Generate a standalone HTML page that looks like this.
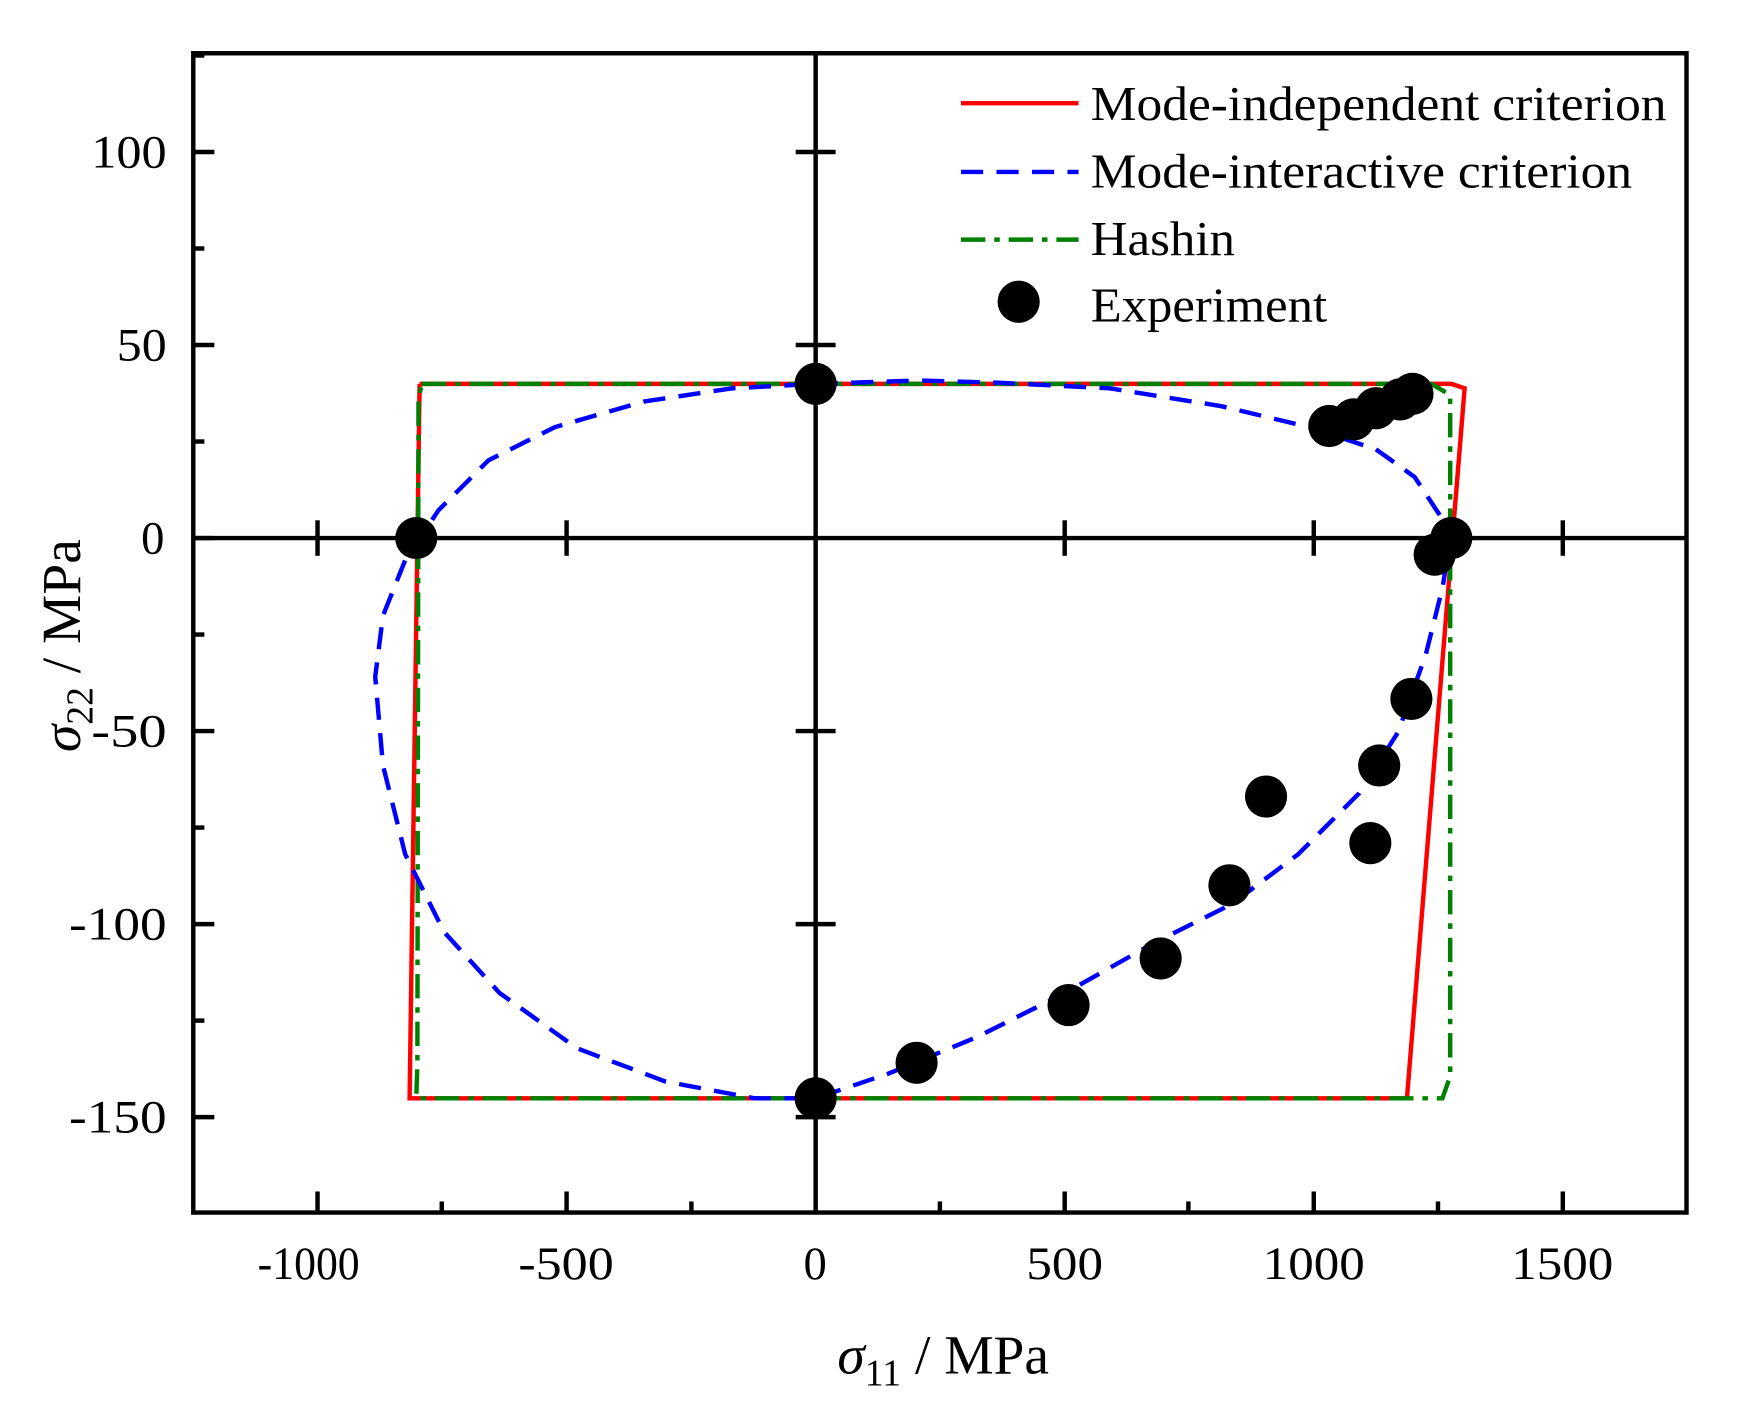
<!DOCTYPE html>
<html><head><meta charset="utf-8"><style>html,body{margin:0;padding:0;background:#fff}svg{display:block}</style></head><body>
<svg width="1740" height="1420" viewBox="0 0 1568 1280" xmlns="http://www.w3.org/2000/svg" font-family="Liberation Serif, serif">
<rect width="1568" height="1280" fill="#fff"/>
<line x1="174" y1="485" x2="1520" y2="485" stroke="#000" stroke-width="4"/>
<line x1="735" y1="48" x2="735" y2="1093" stroke="#000" stroke-width="4"/>
<g stroke="#000" stroke-width="4">
<line x1="717" y1="137" x2="753" y2="137"/><line x1="717" y1="311" x2="753" y2="311"/>
<line x1="717" y1="659" x2="753" y2="659"/><line x1="717" y1="833" x2="753" y2="833"/>
<line x1="717" y1="1007" x2="753" y2="1007"/>
<line x1="286" y1="469" x2="286" y2="501"/><line x1="510.5" y1="469" x2="510.5" y2="501"/>
<line x1="959.5" y1="469" x2="959.5" y2="501"/><line x1="1184" y1="469" x2="1184" y2="501"/>
<line x1="1408.5" y1="469" x2="1408.5" y2="501"/>
<line x1="174" y1="137" x2="193" y2="137"/><line x1="174" y1="311" x2="193" y2="311"/>
<line x1="174" y1="485" x2="193" y2="485"/><line x1="174" y1="659" x2="193" y2="659"/>
<line x1="174" y1="833" x2="193" y2="833"/><line x1="174" y1="1007" x2="193" y2="1007"/>
<line x1="174" y1="50" x2="184" y2="50"/><line x1="174" y1="224" x2="184" y2="224"/>
<line x1="174" y1="398" x2="184" y2="398"/><line x1="174" y1="572" x2="184" y2="572"/>
<line x1="174" y1="746" x2="184" y2="746"/><line x1="174" y1="920" x2="184" y2="920"/>
<line x1="286" y1="1093" x2="286" y2="1074"/><line x1="510.5" y1="1093" x2="510.5" y2="1074"/>
<line x1="959.5" y1="1093" x2="959.5" y2="1074"/><line x1="1184" y1="1093" x2="1184" y2="1074"/>
<line x1="1408.5" y1="1093" x2="1408.5" y2="1074"/>
<line x1="398" y1="1093" x2="398" y2="1083"/><line x1="623" y1="1093" x2="623" y2="1083"/>
<line x1="847" y1="1093" x2="847" y2="1083"/><line x1="1071" y1="1093" x2="1071" y2="1083"/>
<line x1="1296" y1="1093" x2="1296" y2="1083"/>
</g>
<polyline points="378,346 1308,346 1320,350 1268,990 369,990 378,346" fill="none" stroke="#f00" stroke-width="4"/>
<polyline points="380,346 1290,346 1307,356 1307,970 1300,990 375,990 376,960 377,360 380,346" fill="none" stroke="#008000" stroke-width="4" stroke-dasharray="22,8,5,8"/>
<polyline points="735,346 830,343 900,345 1000,350 1100,366 1180,385 1240,405 1275,430 1298,465 1305,500 1300,530 1285,590 1260,660 1225,715 1170,770 1110,815 1040,850 960,895 880,935 800,968 735,990 680,990 600,975 520,945 450,895 400,840 365,770 345,690 338,610 345,555 365,505 395,460 440,415 500,385 580,362 660,350 735,346" fill="none" stroke="#00f" stroke-width="4" stroke-linejoin="round" stroke-dasharray="20,12"/>
<g fill="#000">
<circle cx="735" cy="346" r="19"/><circle cx="375" cy="485" r="19"/><circle cx="1308" cy="485" r="19"/>
<circle cx="1293" cy="500" r="19"/><circle cx="735" cy="990" r="19"/><circle cx="826" cy="958" r="19"/>
<circle cx="963" cy="906" r="19"/><circle cx="1046" cy="864" r="19"/><circle cx="1108" cy="798" r="19"/>
<circle cx="1141" cy="718" r="19"/><circle cx="1243" cy="690" r="19"/><circle cx="1272" cy="630" r="19"/>
<circle cx="1235" cy="760" r="19"/><circle cx="1198" cy="384" r="19"/><circle cx="1220" cy="378" r="19"/>
<circle cx="1240" cy="368" r="19"/><circle cx="1262" cy="360" r="19"/><circle cx="1273" cy="355" r="19"/>
</g>
<rect x="174" y="48" width="1346" height="1045" fill="none" stroke="#000" stroke-width="4"/>
<g font-size="42" fill="#000">
<text x="82" y="151" textLength="68" lengthAdjust="spacingAndGlyphs">100</text>
<text x="105" y="325" textLength="45" lengthAdjust="spacingAndGlyphs">50</text>
<text x="127" y="499">0</text>
<text x="82" y="673" textLength="68" lengthAdjust="spacingAndGlyphs">-50</text>
<text x="62" y="847" textLength="88" lengthAdjust="spacingAndGlyphs">-100</text>
<text x="62" y="1021" textLength="88" lengthAdjust="spacingAndGlyphs">-150</text>
<text x="232" y="1153" textLength="92" lengthAdjust="spacingAndGlyphs">-1000</text>
<text x="467" y="1153" textLength="86" lengthAdjust="spacingAndGlyphs">-500</text>
<text x="724" y="1153">0</text>
<text x="925" y="1153" textLength="69" lengthAdjust="spacingAndGlyphs">500</text>
<text x="1138" y="1153" textLength="92" lengthAdjust="spacingAndGlyphs">1000</text>
<text x="1362" y="1153" textLength="92" lengthAdjust="spacingAndGlyphs">1500</text>
</g>
<text x="850" y="1238" font-size="50" text-anchor="middle"><tspan font-style="italic">σ</tspan><tspan font-size="34" dy="11">11</tspan><tspan dy="-11"> / MPa</tspan></text>
<text transform="translate(72,582) rotate(-90)" font-size="50" text-anchor="middle"><tspan font-style="italic">σ</tspan><tspan font-size="34" dy="11">22</tspan><tspan dy="-11"> / MPa</tspan></text>
<line x1="866" y1="93" x2="972" y2="93" stroke="#f00" stroke-width="4"/>
<line x1="866" y1="155" x2="972" y2="155" stroke="#00f" stroke-width="4" stroke-dasharray="20,12"/>
<line x1="866" y1="216" x2="972" y2="216" stroke="#008000" stroke-width="4" stroke-dasharray="22,8,5,8"/>
<circle cx="918" cy="272" r="19" fill="#000"/>
<g font-size="44" fill="#000">
<text x="983" y="108" textLength="519" lengthAdjust="spacingAndGlyphs">Mode-independent criterion</text>
<text x="983" y="169" textLength="488" lengthAdjust="spacingAndGlyphs">Mode-interactive criterion</text>
<text x="983" y="230" textLength="130" lengthAdjust="spacingAndGlyphs">Hashin</text>
<text x="983" y="290" textLength="213" lengthAdjust="spacingAndGlyphs">Experiment</text>
</g>
</svg>
</body></html>
